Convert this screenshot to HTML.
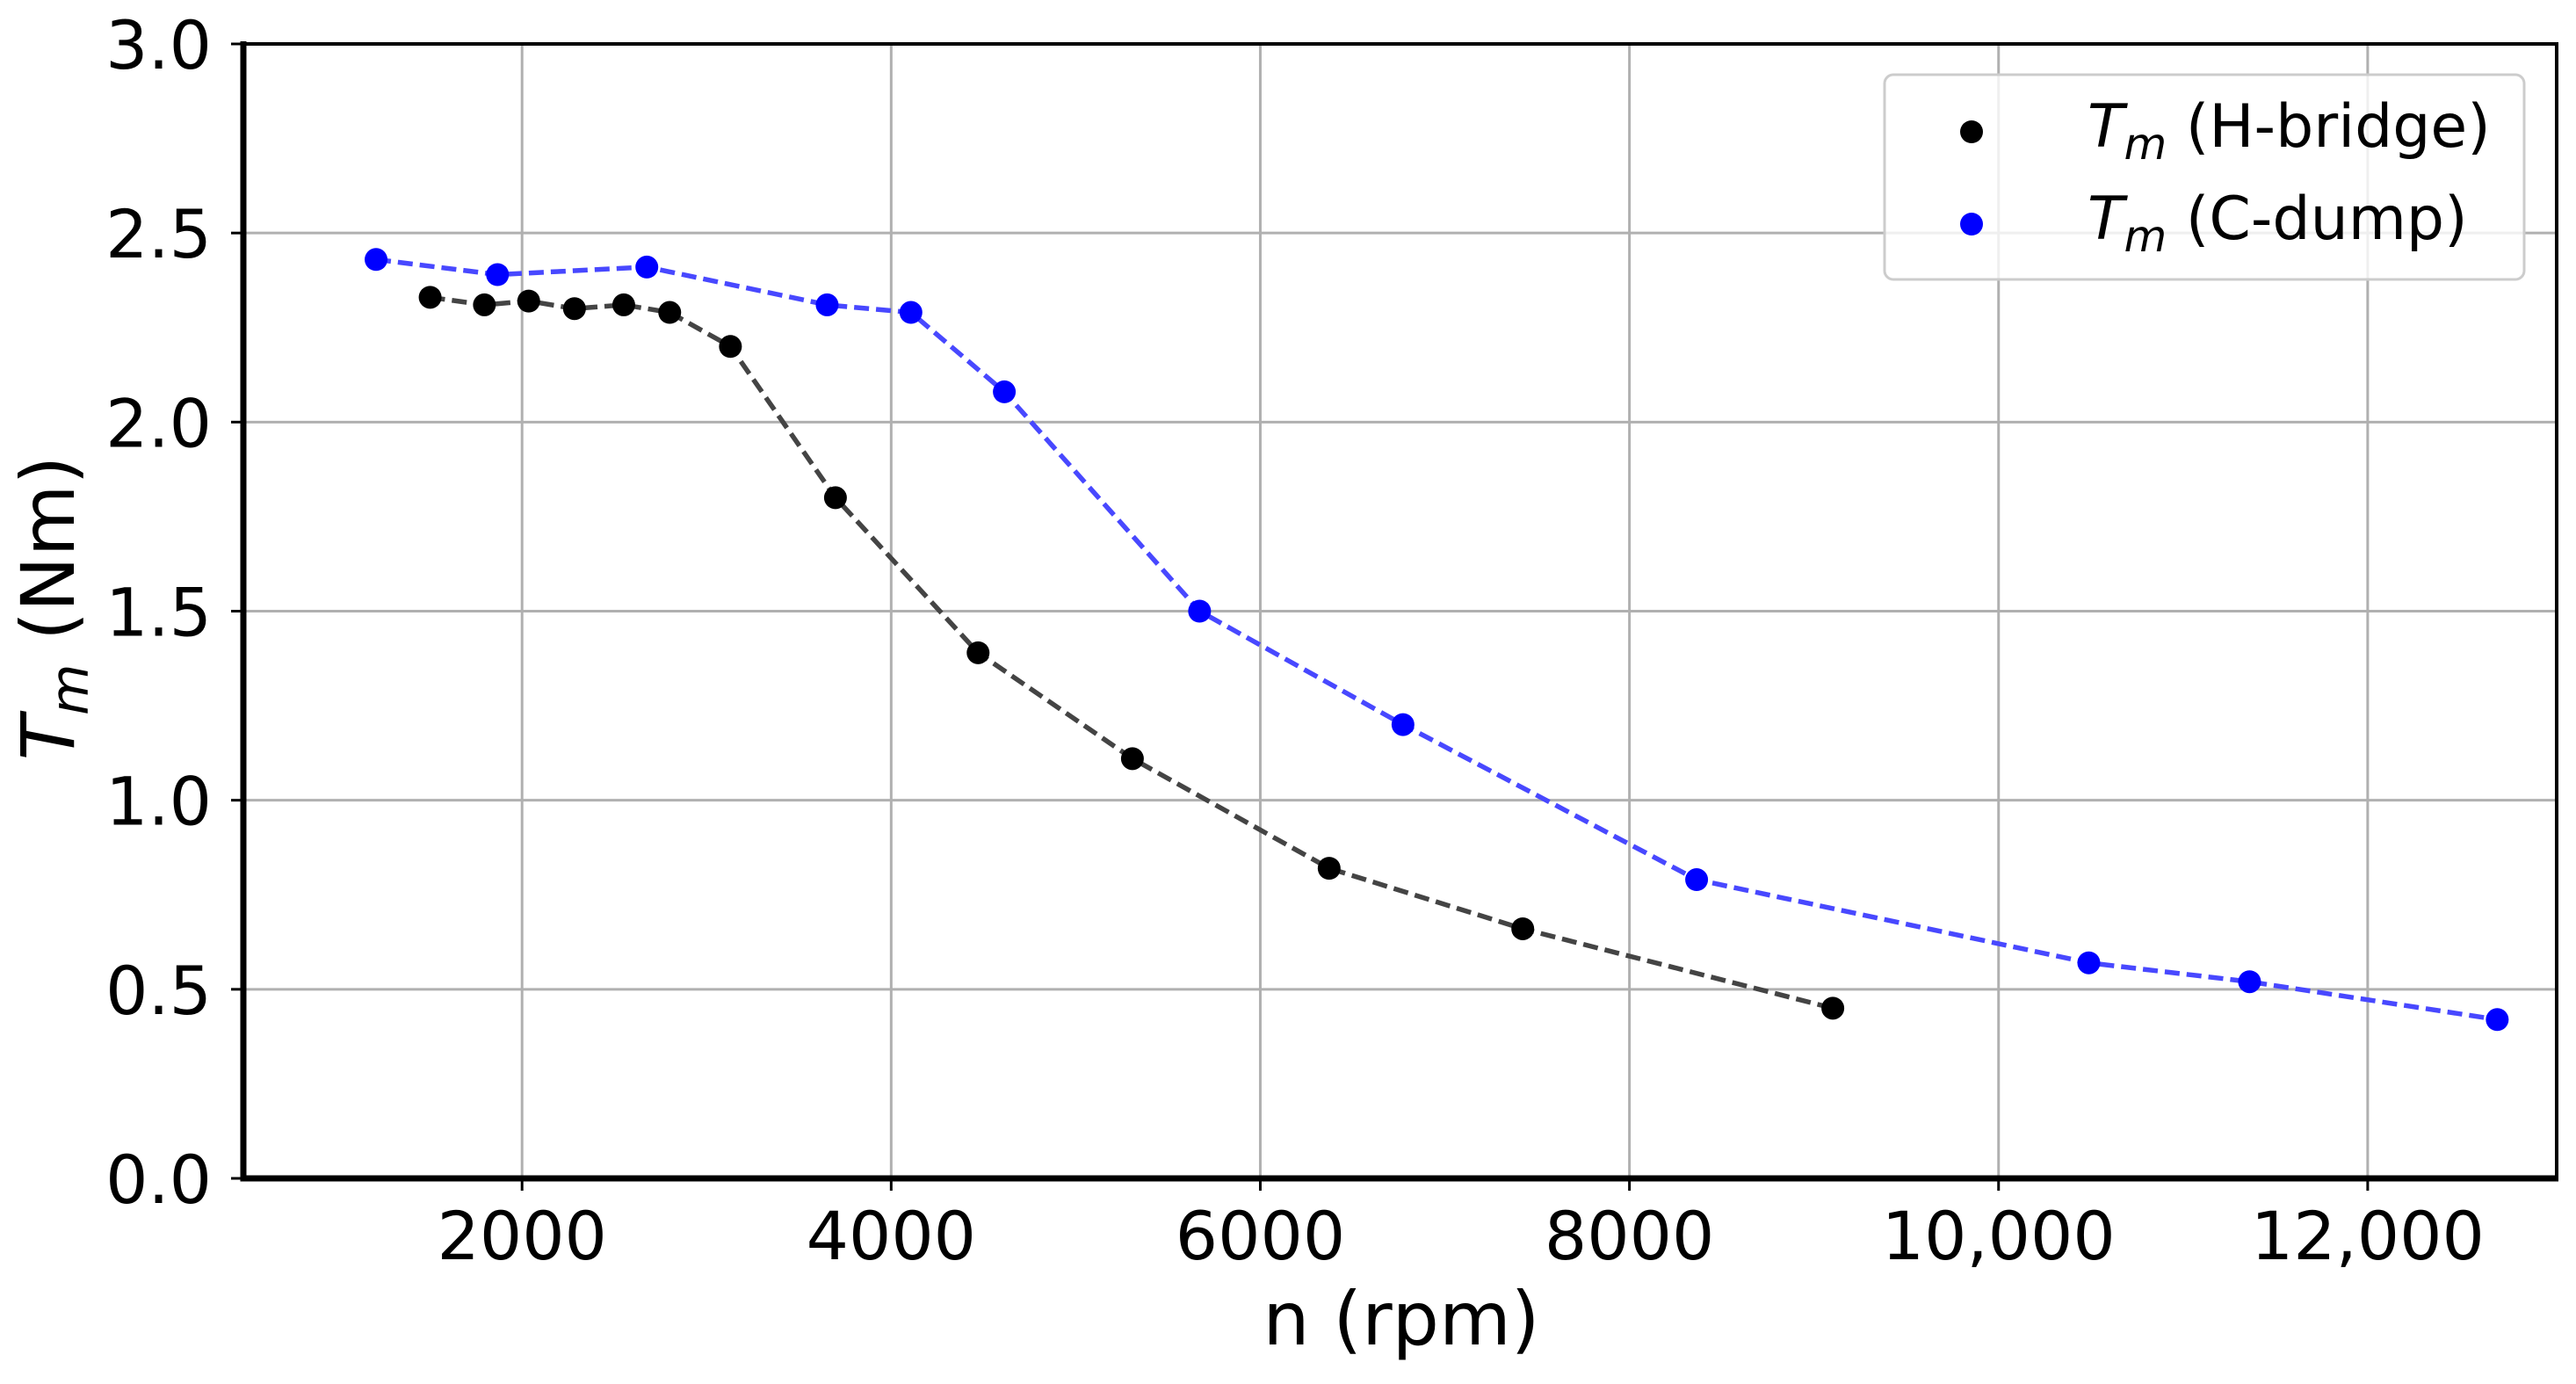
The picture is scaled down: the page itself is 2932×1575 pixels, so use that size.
<!DOCTYPE html>
<html><head><meta charset="utf-8"><style>
html,body{margin:0;padding:0;background:#fff;}
svg{display:block;font-family:"DejaVu Sans","Liberation Sans",sans-serif;}
</style></head><body>
<svg id="chart" width="2932" height="1575" viewBox="0 0 2932 1575" xmlns="http://www.w3.org/2000/svg">
<g id="grid"></g>
<g id="series"></g>
<g id="axes"></g>
<g>
  <rect x="2145" y="85" width="728" height="233" rx="10" fill="#fff" fill-opacity="0.8" stroke="#ccc" stroke-width="3"/>
  <circle cx="2244" cy="150" r="13" fill="#000"/>
  <text x="2376" y="167" font-size="68"><tspan font-style="italic">T</tspan><tspan font-style="italic" font-size="50" dy="14">m</tspan><tspan dy="-14"> (H-bridge)</tspan></text>
  <circle cx="2244" cy="255" r="13" fill="#0000ff"/>
  <text x="2376" y="272" font-size="68"><tspan font-style="italic">T</tspan><tspan font-style="italic" font-size="50" dy="14">m</tspan><tspan dy="-14"> (C-dump)</tspan></text>
</g>
<text x="1595" y="1530" font-size="84" text-anchor="middle">n (rpm)</text>
<text transform="translate(84,692) rotate(-90)" font-size="84" text-anchor="middle"><tspan font-style="italic">T</tspan><tspan font-style="italic" font-size="60" dy="16">m</tspan><tspan dy="-16"> (Nm)</tspan></text>
</svg>
<script>
const hRpm = [1502,1796,2036,2284,2551,2800,3129,3698,4471,5307,6373,7422,9102];
const hTorque = [2.33,2.31,2.32,2.30,2.31,2.29,2.20,1.80,1.39,1.11,0.82,0.66,0.45];
const cRpm = [1209,1867,2676,3653,4107,4613,5671,6773,8364,10489,11360,12702];
const cTorque = [2.43,2.39,2.41,2.31,2.29,2.08,1.50,1.20,0.79,0.57,0.52,0.42];
const xTicks = [2000,4000,6000,8000,10000,12000];
const xTickLabels = ["2000","4000","6000","8000","10,000","12,000"];
const yTicks = [0,0.5,1,1.5,2,2.5,3];
const yTickLabels = ["0.0","0.5","1.0","1.5","2.0","2.5","3.0"];

const L=277,R=2910,T=50,B=1341;
const xMin=490,xMax=13024,yMin=0,yMax=3;
const xs=v=>L+(v-xMin)/(xMax-xMin)*(R-L);
const ys=v=>B-(v-yMin)/(yMax-yMin)*(B-T);
const NS="http://www.w3.org/2000/svg";
function mk(tag,attrs,parent){const e=document.createElementNS(NS,tag);for(const k in attrs)e.setAttribute(k,attrs[k]);parent.appendChild(e);return e;}
const grid=document.getElementById('grid'),axes=document.getElementById('axes'),series=document.getElementById('series');

xTicks.forEach((v,i)=>{
  const g=mk('line',{x1:xs(v),x2:xs(v),y1:T,y2:B,stroke:'#b0b0b0','stroke-width':3},grid);
  
  
  const t=mk('line',{x1:xs(v),x2:xs(v),y1:B,y2:B+14,stroke:'#000','stroke-width':3},axes);
  
  
  const l=mk('text',{x:xs(v),y:B+92,'font-size':76,'text-anchor':'middle'},axes);
  l.textContent=xTickLabels[i];
  
  
});
yTicks.forEach((v,i)=>{
  const g=mk('line',{x1:L,x2:R,y1:ys(v),y2:ys(v),stroke:'#b0b0b0','stroke-width':3},grid);
  
  
  const t=mk('line',{x1:L-14,x2:L,y1:ys(v),y2:ys(v),stroke:'#000','stroke-width':3},axes);
  
  
  const l=mk('text',{x:241,y:ys(v)+28,'font-size':76,'text-anchor':'end'},axes);
  l.textContent=yTickLabels[i];
  
  
});
const fr=mk('path',{d:`M${L},${T}H${R}V${B}`,fill:'none',stroke:'#000','stroke-width':4},axes);


const ax=mk('path',{d:`M${L},${T-3}V${B}H${R+2}`,fill:'none',stroke:'#000','stroke-width':7},axes);



function draw(xsArr,ysArr,lineColor,dotColor,name){
  const d=xsArr.map((v,i)=>(i?'L':'M')+xs(v)+','+ys(ysArr[i])).join('');
  const p=mk('path',{d:d,fill:'none',stroke:lineColor,'stroke-width':5.5,'stroke-dasharray':'17,8'},series);
  
  
  xsArr.forEach((v,i)=>{
    const c=mk('circle',{cx:xs(v),cy:ys(ysArr[i]),r:13,fill:dotColor},series);
    
    
  });
}
draw(hRpm,hTorque,'#444','#000','h-bridge');
draw(cRpm,cTorque,'#4848ff','#0000ff','c-dump');
</script>
</body></html>
